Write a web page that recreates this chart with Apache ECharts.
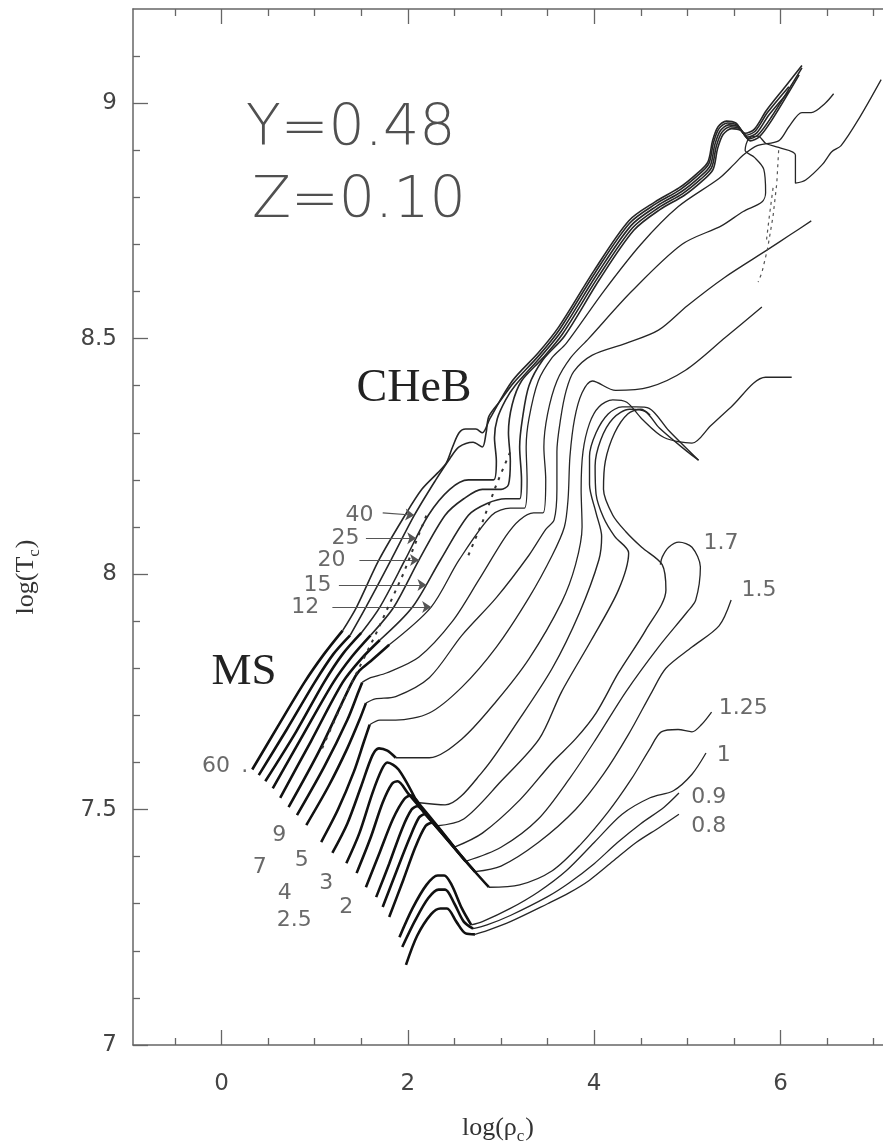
<!DOCTYPE html>
<html>
<head>
<meta charset="utf-8">
<script src="https://cdn.jsdelivr.net/npm/echarts@6/dist/echarts.min.js"></script>
<style>
  html, body { margin: 0; padding: 0; background: #fff; }
  #chart { width: 883px; height: 1147px; }
</style>
</head>
<body>
<div id="chart"></div>
<script>
// ---- axis ticks ----
const xMajorTicks = [0, 2, 4, 6];
const xMinorTicks = [-0.5, 0.5, 1, 1.5, 2.5, 3, 3.5, 4.5, 5, 5.5, 6.5, 7];
const yMajorTicks = [7, 7.5, 8, 8.5, 9];
const yMinorTicks = [7.1, 7.2, 7.3, 7.4, 7.6, 7.7, 7.8, 7.9, 8.1, 8.2, 8.3, 8.4, 8.6, 8.7, 8.8, 8.9, 9.1];

// ---- evolutionary tracks in the log(rho_c) - log(T_c) plane ----
// msXX: core H burning part (drawn bold), evXX: later evolution (thin)
const ms60 = [[0.33,7.585],[0.6,7.675],[0.89,7.77],[1.1,7.83],[1.3,7.88]];
const ev60 = [[1.3,7.88],[1.45,7.93],[1.69,8.03],[1.97,8.125],[2.15,8.18],[2.32,8.215],[2.41,8.235],[2.48,8.27],[2.55,8.3],[2.62,8.308],[2.73,8.308],[2.8,8.3],[2.88,8.33],[3.12,8.41],[3.4,8.47],[3.62,8.525],[4.0,8.645],[4.37,8.75],[4.65,8.79],[4.91,8.82],[5.1,8.85],[5.22,8.875],[5.27,8.92],[5.33,8.95],[5.42,8.962],[5.52,8.958],[5.62,8.936],[5.72,8.945],[5.85,8.985],[6.05,9.035],[6.23,9.08]];

const ms40 = [[0.40,7.573],[0.7,7.67],[1.0,7.77],[1.2,7.83],[1.38,7.87]];
const ev40 = [[1.38,7.87],[1.55,7.93],[1.82,8.03],[2.07,8.125],[2.3,8.2],[2.45,8.245],[2.55,8.27],[2.7,8.28],[2.8,8.27],[2.84,8.3],[2.87,8.335],[3.0,8.37],[3.13,8.405],[3.41,8.465],[3.63,8.52],[4.01,8.64],[4.38,8.745],[4.66,8.786],[4.92,8.816],[5.11,8.846],[5.23,8.871],[5.28,8.916],[5.34,8.946],[5.43,8.958],[5.53,8.954],[5.63,8.932],[5.73,8.941],[5.86,8.98],[6.09,9.035]];

const ms25 = [[0.47,7.56],[0.8,7.665],[1.1,7.77],[1.3,7.83],[1.5,7.875]];
const ev25 = [[1.5,7.875],[1.7,7.93],[1.97,8.03],[2.22,8.125],[2.45,8.18],[2.65,8.2],[2.8,8.2],[2.92,8.2],[2.95,8.24],[2.93,8.29],[2.96,8.33],[3.05,8.37],[3.15,8.4],[3.42,8.46],[3.645,8.515],[4.025,8.635],[4.395,8.74],[4.675,8.782],[4.935,8.812],[5.125,8.842],[5.245,8.867],[5.295,8.912],[5.355,8.942],[5.445,8.954],[5.545,8.95],[5.645,8.928],[5.745,8.937],[5.875,8.975],[6.09,9.025]];

const ms20 = [[0.55,7.545],[0.88,7.66],[1.2,7.77],[1.4,7.825],[1.6,7.87]];
const ev20 = [[1.6,7.87],[1.85,7.93],[2.12,8.03],[2.4,8.125],[2.6,8.16],[2.8,8.18],[3.0,8.18],[3.08,8.19],[3.1,8.24],[3.08,8.3],[3.12,8.36],[3.22,8.41],[3.44,8.457],[3.66,8.51],[4.04,8.63],[4.41,8.735],[4.69,8.778],[4.95,8.808],[5.14,8.838],[5.26,8.863],[5.31,8.908],[5.37,8.938],[5.46,8.95],[5.56,8.946],[5.66,8.924],[5.76,8.933],[5.9,8.97],[6.23,9.075]];

const ms15 = [[0.63,7.525],[0.96,7.645],[1.3,7.77],[1.5,7.82],[1.7,7.86]];
const ev15 = [[1.7,7.86],[2.05,7.93],[2.35,8.03],[2.65,8.125],[2.85,8.15],[3.05,8.16],[3.2,8.16],[3.22,8.2],[3.2,8.27],[3.23,8.33],[3.3,8.4],[3.45,8.455],[3.68,8.505],[4.055,8.625],[4.425,8.73],[4.705,8.774],[4.965,8.804],[5.155,8.834],[5.275,8.859],[5.325,8.904],[5.385,8.934],[5.475,8.946],[5.575,8.942],[5.675,8.92],[5.775,8.929],[5.91,8.965],[6.2,9.06]];

const ms12 = [[0.72,7.505],[1.05,7.625],[1.4,7.77],[1.48,7.795],[1.6,7.815],[1.8,7.85]];
const ev12 = [[1.8,7.85],[2.25,7.93],[2.55,8.03],[2.9,8.125],[3.1,8.14],[3.25,8.14],[3.28,8.2],[3.27,8.27],[3.3,8.33],[3.4,8.41],[3.55,8.46],[3.7,8.49],[4.1,8.6],[4.5,8.7],[4.9,8.78],[5.34,8.84],[5.5,8.87],[5.6,8.89],[5.75,8.91],[5.98,8.92],[6.09,8.95],[6.23,8.98],[6.33,8.98],[6.48,9.0],[6.57,9.02]];

const ms9 = [[0.81,7.488],[1.1,7.59],[1.35,7.69],[1.47,7.75],[1.51,7.77]];
const ev9 = [[1.51,7.77],[1.6,7.78],[1.77,7.79],[2.12,7.824],[2.48,7.9],[2.76,7.987],[3.05,8.08],[3.2,8.115],[3.35,8.13],[3.45,8.13],[3.48,8.2],[3.46,8.27],[3.5,8.34],[3.6,8.41],[3.75,8.46],[3.94,8.5],[4.4,8.6],[4.94,8.7],[5.37,8.74],[5.6,8.77],[5.8,8.79],[5.84,8.81],[5.82,8.86],[5.72,8.885],[5.62,8.9],[5.66,8.925],[5.76,8.93],[5.84,8.915],[5.98,8.906],[6.16,8.89],[6.16,8.83],[6.27,8.837],[6.45,8.87],[6.55,8.897],[6.65,8.91],[6.85,8.97],[7.08,9.05]];

const ms7 = [[0.91,7.467],[1.15,7.55],[1.35,7.63],[1.48,7.69],[1.55,7.726]];
const ev7 = [[1.55,7.726],[1.65,7.735],[1.87,7.74],[2.23,7.78],[2.58,7.87],[2.95,7.95],[3.3,8.04],[3.48,8.095],[3.57,8.115],[3.6,8.18],[3.6,8.26],[3.64,8.33],[3.7,8.39],[3.78,8.43],[3.98,8.465],[4.34,8.49],[4.69,8.518],[5.0,8.57],[5.4,8.63],[5.87,8.69],[6.1,8.72],[6.33,8.75]];

const ms5 = [[1.07,7.431],[1.25,7.5],[1.42,7.58],[1.53,7.645],[1.59,7.68]];
const ev5 = [[1.59,7.68],[1.7,7.69],[1.87,7.69],[2.23,7.705],[2.58,7.76],[2.95,7.845],[3.3,7.95],[3.55,8.04],[3.68,8.1],[3.72,8.16],[3.74,8.25],[3.79,8.33],[3.87,8.385],[3.98,8.41],[4.23,8.39],[4.59,8.397],[4.98,8.433],[5.41,8.503],[5.8,8.567]];

const ms4 = [[1.19,7.408],[1.35,7.47],[1.5,7.55],[1.62,7.615],[1.69,7.63],[1.78,7.625],[1.87,7.61]];
const ev4 = [[1.87,7.61],[2.23,7.61],[2.58,7.65],[2.95,7.73],[3.3,7.82],[3.65,7.94],[3.8,8.02],[3.87,8.1],[3.86,8.18],[3.88,8.26],[3.95,8.32],[4.05,8.355],[4.2,8.37],[4.35,8.365],[4.51,8.33],[4.75,8.29],[5.05,8.278],[5.25,8.315],[5.47,8.355],[5.84,8.418],[6.12,8.418]];

const ms3 = [[1.34,7.386],[1.48,7.45],[1.62,7.535],[1.72,7.585],[1.78,7.6],[1.9,7.585],[2.1,7.515]];
const ev3 = [[2.1,7.515],[2.4,7.51],[2.8,7.58],[3.19,7.69],[3.55,7.8],[3.84,7.917],[4.05,8.03],[4.08,8.08],[4.02,8.13],[3.95,8.19],[3.95,8.25],[4.02,8.3],[4.15,8.34],[4.3,8.355],[4.45,8.355],[4.59,8.352],[4.8,8.305],[5.12,8.242]];

const ms25b = [[1.45,7.365],[1.6,7.44],[1.73,7.515],[1.83,7.555],[1.89,7.56],[2.0,7.535],[2.3,7.465]];
const ev25b = [[2.3,7.465],[2.6,7.48],[3.0,7.56],[3.41,7.65],[3.65,7.75],[3.97,7.86],[4.26,7.966],[4.37,8.045],[4.22,8.08],[4.1,8.12],[4.02,8.17],[4.01,8.23],[4.07,8.285],[4.2,8.33],[4.38,8.35],[4.55,8.345],[4.7,8.31],[5.0,8.26],[5.12,8.242]];

const ms2 = [[1.55,7.335],[1.7,7.41],[1.84,7.48],[1.96,7.522],[2.03,7.53],[2.15,7.505],[2.5,7.42]];
const ev2 = [[2.5,7.42],[2.8,7.45],[3.2,7.52],[3.55,7.6],[3.8,7.65],[4.02,7.705],[4.26,7.79],[4.55,7.88],[4.77,7.966],[4.73,8.02],[4.51,8.057],[4.34,8.09],[4.2,8.125],[4.1,8.18],[4.12,8.24],[4.22,8.3],[4.36,8.34],[4.5,8.35],[4.6,8.338]];

const ms17 = [[1.66,7.314],[1.8,7.385],[1.94,7.46],[2.04,7.5],[2.1,7.507],[2.2,7.487],[2.62,7.39]];
const ev17 = [[2.62,7.39],[3.0,7.42],[3.4,7.48],[3.75,7.57],[4.02,7.65],[4.34,7.75],[4.69,7.845],[5.0,7.92],[5.09,7.945],[5.14,8.015],[5.05,8.057],[4.91,8.068],[4.8,8.057],[4.73,8.036],[4.71,8.02]];

const ms15b = [[1.73,7.293],[1.88,7.37],[2.02,7.44],[2.12,7.483],[2.18,7.49],[2.3,7.465],[2.72,7.368]];
const ev15b = [[2.72,7.368],[3.0,7.38],[3.4,7.43],[3.8,7.5],[4.1,7.575],[4.37,7.66],[4.62,7.75],[4.77,7.8],[5.05,7.845],[5.34,7.89],[5.47,7.945]];

const ms125 = [[1.8,7.272],[1.95,7.35],[2.08,7.42],[2.19,7.465],[2.26,7.472],[2.4,7.443],[2.6,7.395],[2.87,7.335]];
const ev125 = [[2.87,7.335],[3.2,7.34],[3.55,7.37],[3.85,7.425],[4.15,7.495],[4.4,7.565],[4.6,7.63],[4.72,7.665],[4.9,7.67],[5.05,7.665],[5.15,7.68],[5.26,7.707]];

const ms10 = [[1.91,7.229],[2.05,7.29],[2.2,7.34],[2.32,7.36],[2.39,7.36],[2.47,7.34],[2.58,7.29],[2.68,7.255]];
const ev10 = [[2.68,7.255],[2.8,7.262],[3.1,7.29],[3.4,7.325],[3.7,7.37],[4.0,7.43],[4.3,7.49],[4.6,7.525],[4.85,7.54],[5.05,7.575],[5.2,7.62]];

const ms09 = [[1.94,7.208],[2.08,7.265],[2.22,7.312],[2.33,7.33],[2.4,7.33],[2.5,7.3],[2.6,7.262],[2.7,7.247]];
const ev09 = [[2.7,7.247],[2.85,7.255],[3.1,7.275],[3.5,7.315],[3.73,7.344],[4.0,7.385],[4.25,7.43],[4.5,7.47],[4.75,7.505],[4.91,7.535]];

const ms08 = [[1.98,7.17],[2.1,7.232],[2.25,7.278],[2.35,7.29],[2.42,7.29],[2.52,7.262],[2.62,7.237],[2.72,7.235]];
const ev08 = [[2.72,7.235],[2.85,7.243],[3.1,7.262],[3.5,7.3],[3.73,7.323],[3.95,7.35],[4.2,7.39],[4.45,7.43],[4.7,7.462],[4.91,7.49]];

// dotted segments
const dotMS = [[1.08,7.63],[1.35,7.75],[1.65,7.87],[1.95,8.0],[2.2,8.125]];
const dotHe = [[2.65,8.04],[2.8,8.11],[2.95,8.19],[3.1,8.26]];
const dotUpperA = [[5.98,8.9],[5.96,8.83],[5.92,8.76],[5.86,8.69],[5.8,8.64],[5.76,8.62]];
const dotUpperB = [[5.92,8.82],[5.88,8.76],[5.85,8.71]];

// mass labels [text, log rho, log T]
const massLabels = [
  ['40', 1.48, 8.125], ['25', 1.33, 8.076], ['20', 1.18, 8.03], ['15', 1.03, 7.977], ['12', 0.9, 7.93],
  ['60', -0.06, 7.592], ['.', 0.25, 7.592],
  ['9', 0.62, 7.446], ['7', 0.41, 7.378], ['5', 0.86, 7.393], ['4', 0.68, 7.323],
  ['3', 1.125, 7.344], ['2.5', 0.78, 7.265], ['2', 1.34, 7.293],
  ['1.7', 5.36, 8.066], ['1.5', 5.77, 7.966], ['1.25', 5.6, 7.716],
  ['1', 5.39, 7.616], ['0.9', 5.23, 7.527], ['0.8', 5.23, 7.465]
];
// arrows from the labels to the tracks [from, to]
const massArrows = [
  [[1.73, 8.13], [2.07, 8.125]],
  [[1.55, 8.076], [2.09, 8.076]],
  [[1.48, 8.03], [2.12, 8.03]],
  [[1.26, 7.977], [2.2, 7.977]],
  [[1.19, 7.93], [2.25, 7.93]]
];

// [bold part, thin part, thin width]
const tracks = [
  [ms60, ev60, 1.6], [ms40, ev40, 1.6], [ms25, ev25, 1.6], [ms20, ev20, 1.6], [ms15, ev15, 1.6], [ms12, ev12, 1.3],
  [ms9, ev9, 1.3], [ms7, ev7, 1.3], [ms5, ev5, 1.3], [ms4, ev4, 1.3], [ms3, ev3, 1.4], [ms25b, ev25b, 1.4],
  [ms2, ev2, 1.4], [ms17, ev17, 1.3], [ms15b, ev15b, 1.3], [ms125, ev125, 1.3], [ms10, ev10, 1.3], [ms09, ev09, 1.3], [ms08, ev08, 1.3]
];

const series = [];
tracks.forEach(function (t) {
  series.push({
    type: 'line', data: t[0], symbol: 'none', smooth: 0.3, silent: true,
    lineStyle: { color: '#111', width: 2.6 }, z: 4
  });
  series.push({
    type: 'line', data: t[1], symbol: 'none', smooth: 0.3, silent: true,
    lineStyle: { color: '#262626', width: t[2] }, z: 3
  });
});
[dotMS, dotHe].forEach(function (d) {
  series.push({
    type: 'line', data: d, symbol: 'none', silent: true,
    lineStyle: { color: '#333', width: 2, type: [3, 6] }, z: 5
  });
});
[dotUpperA, dotUpperB].forEach(function (d) {
  series.push({
    type: 'line', data: d, symbol: 'none', silent: true,
    lineStyle: { color: '#555', width: 1.2, type: [3, 4] }, z: 5
  });
});
series.push({
  type: 'line', data: [], symbol: 'none', silent: true,
  markLine: {
    silent: true, symbol: ['none', 'arrow'], symbolSize: 9, animation: false,
    label: { show: false },
    lineStyle: { color: '#555', width: 1.2, type: 'solid' },
    data: massArrows.map(function (a) { return [{ coord: a[0] }, { coord: a[1] }]; })
  }
});
series.push({
  type: 'scatter', symbolSize: 0, silent: true, z: 6,
  data: massLabels.map(function (l) { return { name: l[0], value: [l[1], l[2]] }; }),
  label: {
    show: true, position: 'inside', formatter: '{b}',
    fontFamily: 'DejaVu Sans', fontSize: 22, color: '#444'
  }
});

const X0 = -0.95, X1 = 7.1;
const axisColor = '#666';
function xAxisDef(pos, ticks, len, withLine, withLabels) {
  return {
    type: 'value', min: X0, max: X1, position: pos,
    axisLine: { show: withLine, onZero: false, lineStyle: { color: axisColor, width: 1.5 } },
    axisTick: { show: true, inside: true, length: len, customValues: ticks, lineStyle: { color: axisColor, width: 1.3 } },
    axisLabel: withLabels ? { show: true, customValues: ticks, margin: 28, fontFamily: 'DejaVu Sans', fontSize: 23, color: '#444' } : { show: false },
    splitLine: { show: false }
  };
}
function yAxisDef(ticks, len, withLine, withLabels) {
  return {
    type: 'value', min: 7, max: 9.2, position: 'left',
    axisLine: { show: withLine, onZero: false, lineStyle: { color: axisColor, width: 1.5 } },
    axisTick: { show: true, inside: true, length: len, customValues: ticks, lineStyle: { color: axisColor, width: 1.3 } },
    axisLabel: withLabels ? { show: true, customValues: ticks, margin: 16, fontFamily: 'DejaVu Sans', fontSize: 23, color: '#444' } : { show: false },
    splitLine: { show: false }
  };
}

const option = {
  animation: false,
  backgroundColor: '#fff',
  grid: { left: 133, top: 9, width: 751, height: 1036 },
  xAxis: [
    xAxisDef('bottom', xMajorTicks, 15, true, true),
    xAxisDef('bottom', xMinorTicks, 7, false, false),
    xAxisDef('top', xMajorTicks, 15, true, false),
    xAxisDef('top', xMinorTicks, 7, false, false)
  ],
  yAxis: [
    yAxisDef(yMajorTicks, 15, true, true),
    yAxisDef(yMinorTicks, 7, false, false)
  ],
  series: series,
  graphic: [
    { type: 'text', x: 246, y: 130, style: { text: 'Y=0.48', font: '300 57px "DejaVu Sans"', fill: '#505050', textAlign: 'left', textVerticalAlign: 'middle' } },
    { type: 'text', x: 252, y: 202, style: { text: 'Z=0.10', font: '300 57px "DejaVu Sans"', fill: '#505050', textAlign: 'left', textVerticalAlign: 'middle' } },
    { type: 'text', x: 414, y: 389, style: { text: 'CHeB', font: '46px "Liberation Serif"', fill: '#222', textAlign: 'center', textVerticalAlign: 'middle' } },
    { type: 'text', x: 244, y: 672, style: { text: 'MS', font: '45px "Liberation Serif"', fill: '#222', textAlign: 'center', textVerticalAlign: 'middle' } },
    {
      type: 'text', x: 498, y: 1128,
      style: {
        text: '{n|log(ρ}{s|c}{n|)}', textAlign: 'center', textVerticalAlign: 'middle',
        rich: {
          n: { fontFamily: 'Liberation Serif', fontSize: 26, fill: '#333', lineHeight: 34 },
          s: { fontFamily: 'Liberation Serif', fontSize: 17, fill: '#333', lineHeight: 34, verticalAlign: 'bottom', padding: [12, 1, 0, 0] }
        }
      }
    },
    {
      type: 'text', x: 26, y: 577, rotation: Math.PI / 2,
      style: {
        text: '{n|log(T}{s|c}{n|)}', textAlign: 'center', textVerticalAlign: 'middle',
        rich: {
          n: { fontFamily: 'Liberation Serif', fontSize: 26, fill: '#333', lineHeight: 34 },
          s: { fontFamily: 'Liberation Serif', fontSize: 17, fill: '#333', lineHeight: 34, verticalAlign: 'bottom', padding: [12, 1, 0, 0] }
        }
      }
    }
  ]
};

const chart = echarts.init(document.getElementById('chart'), null, { renderer: 'canvas' });
chart.setOption(option);
</script>
</body>
</html>
